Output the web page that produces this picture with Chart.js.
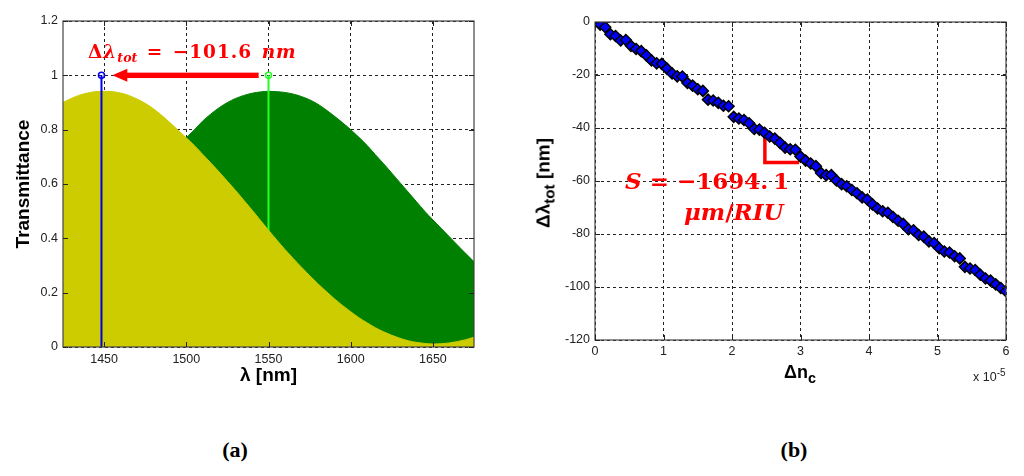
<!DOCTYPE html>
<html><head><meta charset="utf-8">
<script src="https://cdn.jsdelivr.net/npm/chart.js@4.4.1/dist/chart.umd.min.js"></script>
<style>
html,body{margin:0;padding:0;background:#fff;width:1024px;height:476px;overflow:hidden;position:relative;font-family:"Liberation Sans",Arial,sans-serif;}
.cv{position:absolute;top:0;width:512px;height:400px;}
#wa{left:0}
#wb{left:512px}
.t{position:absolute;white-space:nowrap;line-height:1;margin:0;}
.ann{font-family:"DejaVu Serif","Liberation Serif",serif;font-weight:bold;color:#ff0000;}
.ann sub{font-size:0.68em;vertical-align:-0.3em;line-height:0;letter-spacing:0;}
.cap{font-family:"Liberation Serif",serif;font-weight:bold;font-size:22px;color:#000;}
.ax{font-weight:bold;font-size:19px;color:#000;}
.ax sub{font-size:0.8em;vertical-align:-0.35em;line-height:0;}
.mul{font-size:12.5px;color:#222;}
.mul sup{font-size:0.8em;vertical-align:0.55em;line-height:0;}
</style></head><body>
<div class="cv" id="wa"><canvas id="ca" width="512" height="400"></canvas></div>
<div class="cv" id="wb"><canvas id="cb" width="512" height="400"></canvas></div>

<div class="t ann" style="left:88px;top:43px;font-size:18.5px;letter-spacing:1px;word-spacing:2px;">Δ<i>λ<sub>tot</sub></i> = −101.6 <i>nm</i></div>
<div class="t ann" style="left:625px;top:169px;font-size:23px;"><i>S</i> = −1694.<span style="margin-left:5px">1</span></div>
<div class="t ann" style="left:684px;top:200px;font-size:23px;"><i>μm</i>/<i>RIU</i></div>

<div class="t ax" style="left:543px;top:183px;transform:translate(-50%,-50%) rotate(-90deg);">Δλ<sub>tot</sub> [nm]</div>
<div class="t ax" style="left:784px;top:363px;font-size:18px;">Δn<sub>c</sub></div>
<div class="t mul" style="left:973px;top:371px;">x 10<sup>-5</sup></div>

<div class="t cap" style="left:235px;top:439px;transform:translateX(-50%);">(a)</div>
<div class="t cap" style="left:794px;top:439px;transform:translateX(-50%);">(b)</div>

<script>
// ---------- data: panel (a) ----------
const wavelength = [1425,1430,1435,1440,1445,1450,1455,1460,1465,1470,1475,1480,1485,1490,1495,1500,1505,1510,1515,1520,1525,1530,1535,1540,1545,1550,1555,1560,1565,1570,1575,1580,1585,1590,1595,1600,1605,1610,1615,1620,1625,1630,1635,1640,1645,1650,1655,1660,1665,1670,1675];
// shifted spectrum (yellow, peak near 1448 nm)
const transShifted = [0.900,0.915,0.927,0.935,0.940,0.941,0.940,0.935,0.926,0.913,0.897,0.877,0.853,0.826,0.798,0.770,0.741,0.709,0.677,0.644,0.610,0.576,0.540,0.504,0.467,0.430,0.394,0.359,0.326,0.294,0.263,0.233,0.205,0.178,0.153,0.130,0.108,0.089,0.071,0.056,0.043,0.032,0.023,0.017,0.013,0.011,0.012,0.015,0.020,0.027,0.036];
// initial spectrum (green, peak near 1550 nm)
const transInitial = [0.29,0.32,0.35,0.38,0.41,0.44,0.47,0.505,0.54,0.575,0.61,0.645,0.68,0.71,0.74,0.770,0.800,0.832,0.858,0.881,0.900,0.915,0.926,0.934,0.939,0.941,0.940,0.937,0.931,0.922,0.910,0.894,0.873,0.850,0.826,0.800,0.772,0.742,0.708,0.675,0.640,0.605,0.570,0.535,0.500,0.468,0.437,0.406,0.375,0.344,0.314];
const tickLambda = [1450,1500,1550,1600,1650];
const tickTrans = [0,0.2,0.4,0.6,0.8,1,1.2];
const stemShiftedX = [1448.4,1448.4];
const stemInitialX = [1550,1550];
const stemY = [0,1];
const arrowFrom = [1544,1.0];
const arrowTo = [1455,1.0];

// ---------- data: panel (b) ----------
const deltaN = [0,0.075,0.15,0.225,0.3,0.375,0.45,0.525,0.6,0.675,0.75,0.825,0.9,0.975,1.05,1.125,1.2,1.275,1.35,1.425,1.5,1.575,1.65,1.725,1.8,1.875,1.95,2.025,2.1,2.175,2.25,2.325,2.4,2.475,2.55,2.625,2.7,2.775,2.85,2.925,3.0,3.075,3.15,3.225,3.3,3.375,3.45,3.525,3.6,3.675,3.75,3.825,3.9,3.975,4.05,4.125,4.2,4.275,4.35,4.425,4.5,4.575,4.65,4.725,4.8,4.875,4.95,5.025,5.1,5.175,5.25,5.325,5.4,5.475,5.55,5.625,5.7,5.775,5.85,5.925,6.0];
const deltaLambda = [0,-1.0,-2.0,-4.6,-5.3,-7.0,-6.8,-9.0,-10.2,-11.0,-12.6,-14.5,-15.6,-15.8,-17.6,-19.4,-20.5,-20.6,-23.0,-24.0,-25.4,-26.0,-29.3,-29.6,-30.5,-31.6,-31.8,-35.8,-36.4,-37.0,-38.2,-40.4,-40.6,-41.8,-43.2,-44.0,-45.6,-47.4,-48.0,-48.2,-50.8,-52.3,-53.4,-54.4,-57.0,-57.8,-57.8,-59.8,-61.2,-62.0,-63.4,-64.6,-66.2,-67.0,-68.8,-70.4,-71.4,-72.0,-73.6,-75.0,-76.2,-78.2,-78.6,-80.4,-81.0,-82.8,-83.4,-85.4,-86.6,-87.0,-88.4,-89.2,-92.4,-93.0,-93.6,-95.4,-96.8,-97.6,-99.0,-100.4,-101.6];
const tickDn = [0,1,2,3,4,5,6];
const tickDl = [-120,-100,-80,-60,-40,-20,0];
const slopeX = [2.48,2.48,2.98];
const slopeY = [-42.5,-53,-53];

const zip = (xs, ys) => xs.map((x,i)=>({x:x, y:ys[i]}));
const setTicks = arr => (s => { s.ticks = arr.map(v=>({value:v})); });
const plainLabel = v => String(+(+v).toFixed(3));
const tickFont = {family:'"Liberation Sans", Arial, sans-serif', size:12.5};
const titleFont = {family:'"Liberation Sans", Arial, sans-serif', size:19, weight:'bold'};

const framePlugin = {
  id:'frame',
  afterDatasetsDraw(chart, args, opts){
    const {ctx, chartArea:a, scales:{x,y}} = chart;
    ctx.save();
    if (opts.arrow){
      const x1 = x.getPixelForValue(opts.arrow.from[0]);
      const tx = x.getPixelForValue(opts.arrow.to[0]);
      const py = y.getPixelForValue(opts.arrow.to[1]);
      ctx.fillStyle = '#ff0000';
      ctx.fillRect(tx+14, py-2.7, x1-(tx+14), 5.4);
      ctx.beginPath();
      ctx.moveTo(tx, py); ctx.lineTo(tx+15, py-6.5); ctx.lineTo(tx+15, py+6.5); ctx.closePath();
      ctx.fill();
    }
    ctx.strokeStyle = '#444'; ctx.lineWidth = 1.2;
    ctx.strokeRect(a.left, a.top, a.right-a.left, a.bottom-a.top);
    ctx.lineWidth = 1; ctx.strokeStyle = '#222';
    ctx.beginPath();
    x.ticks.forEach(t=>{ const px = Math.round(x.getPixelForValue(t.value))+0.5;
      ctx.moveTo(px,a.bottom); ctx.lineTo(px,a.bottom-5);
      ctx.moveTo(px,a.top); ctx.lineTo(px,a.top+5); });
    y.ticks.forEach(t=>{ const py = Math.round(y.getPixelForValue(t.value))+0.5;
      ctx.moveTo(a.left,py); ctx.lineTo(a.left+5,py);
      ctx.moveTo(a.right,py); ctx.lineTo(a.right-5,py); });
    ctx.stroke();
    ctx.restore();
  }
};

const gridCfg = {color:'#222', lineWidth:1, drawTicks:false};
const borderCfg = {display:false, dash:[3,3]};

new Chart(document.getElementById('ca'), {
  type:'scatter',
  data:{datasets:[
    {data: zip(stemShiftedX, stemY), showLine:true, borderColor:'#0000ee', borderWidth:2,
     pointRadius:[0,3], pointBorderColor:'#0000ee', pointBackgroundColor:'rgba(0,0,0,0)', pointBorderWidth:1.5},
    {data: zip(wavelength, transShifted), showLine:true, borderColor:'#cccc00', borderWidth:1,
     backgroundColor:'#cccc00', fill:'origin', pointRadius:0, cubicInterpolationMode:'monotone'},
    {data: zip(stemInitialX, stemY), showLine:true, borderColor:'#22ff22', borderWidth:2,
     pointRadius:[0,3], pointBorderColor:'#22ff22', pointBackgroundColor:'rgba(0,0,0,0)', pointBorderWidth:1.5},
    {data: zip(wavelength, transInitial), showLine:true, borderColor:'#008000', borderWidth:1,
     backgroundColor:'#008000', fill:'origin', pointRadius:0, cubicInterpolationMode:'monotone'}
  ]},
  options:{
    responsive:false, animation:false, devicePixelRatio:1,
    layout:{padding:{top:21,right:38,left:0,bottom:13}},
    plugins:{legend:{display:false}, tooltip:{enabled:false},
      frame:{arrow:{from:arrowFrom, to:arrowTo}}},
    scales:{
      x:{type:'linear', min:1425, max:1675, afterBuildTicks:setTicks(tickLambda),
         ticks:{padding:5, color:'#222', font:tickFont, maxRotation:0, autoSkip:false, callback:plainLabel},
         grid:gridCfg, border:borderCfg,
         title:{display:true, text:'λ [nm]', font:titleFont, color:'#000', padding:{top:0,bottom:0}},
         afterFit(s){ s.height = 40; }},
      y:{type:'linear', min:0, max:1.2, afterBuildTicks:setTicks(tickTrans),
         ticks:{padding:5, color:'#222', font:tickFont, callback:plainLabel},
         grid:gridCfg, border:borderCfg,
         title:{display:true, text:'Transmittance', font:titleFont, color:'#000', padding:{top:12,bottom:0}},
         afterFit(s){ s.width = 63; }}
    }
  },
  plugins:[framePlugin]
});

new Chart(document.getElementById('cb'), {
  type:'scatter',
  data:{datasets:[
    {data: zip(deltaN, deltaLambda), pointStyle:'rectRot', pointRadius:5.5, backgroundColor:'#0000ff',
     borderColor:'#000', borderWidth:1.5, showLine:false},
    {data: zip(slopeX, slopeY), showLine:true, borderColor:'#ff0000', borderWidth:3.5, pointRadius:0, borderJoinStyle:'miter'}
  ]},
  options:{
    responsive:false, animation:false, devicePixelRatio:1,
    layout:{padding:{top:22,right:18,left:0,bottom:20}},
    plugins:{legend:{display:false}, tooltip:{enabled:false}, frame:{}},
    scales:{
      x:{type:'linear', min:0, max:6, afterBuildTicks:setTicks(tickDn),
         ticks:{padding:4, color:'#222', font:tickFont, maxRotation:0, autoSkip:false, callback:plainLabel},
         grid:gridCfg, border:borderCfg,
         afterFit(s){ s.height = 40; }},
      y:{type:'linear', min:-120, max:0, afterBuildTicks:setTicks(tickDl),
         ticks:{padding:5, color:'#222', font:tickFont, callback:plainLabel},
         grid:gridCfg, border:borderCfg,
         afterFit(s){ s.width = 83; }}
    }
  },
  plugins:[framePlugin]
});
</script>
</body></html>
